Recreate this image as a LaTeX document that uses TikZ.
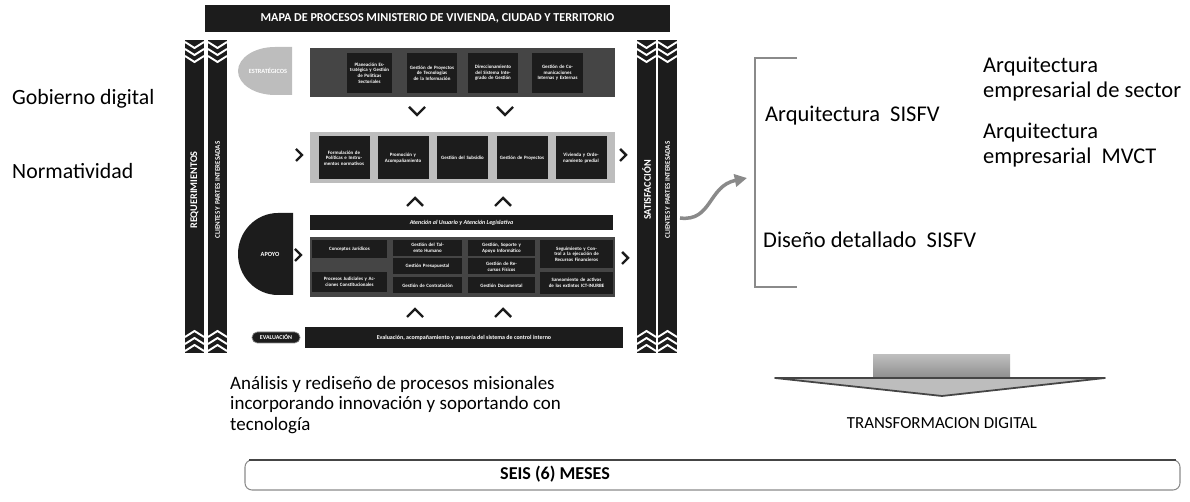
\documentclass[tikz,border=0pt]{standalone}
\usepackage{fontspec}
\setmainfont{Carlito}
\usetikzlibrary{positioning,arrows.meta}

\definecolor{fonce}{HTML}{1C1C1C}
\definecolor{grisfonce}{HTML}{454545}
\definecolor{grismoyen}{HTML}{8A8A8A}
\definecolor{grisclair}{HTML}{BDBDBD}

\begin{document}
\begin{tikzpicture}[x=0.02cm, y=-0.02cm,
		boite/.style={fill=fonce, text=white, font=\fontsize{2.8}{3.2}\selectfont\bfseries, align=center, inner sep=0.5pt},
		etiq/.style={text=white, font=\fontsize{4}{5}\selectfont\bfseries, rotate=90},
		chevron/.style={fonce, line width=1.4pt},
		texte/.style={font=\fontsize{12.8}{14.2}\selectfont, anchor=west, align=left}]
		
		\useasboundingbox (0,0) rectangle (1190,502);
		
		% Titre de la carte de processus
		\node[fill=fonce, text=white, font=\fontsize{6.9}{8}\selectfont\bfseries, minimum width=465*0.02cm, minimum height=27*0.02cm, inner sep=0pt] (titre) at (437.5,18.5) {MAPA DE PROCESOS MINISTERIO DE VIVIENDA, CIUDAD Y TERRITORIO};
		
		% Barres verticales (gauche et droite)
		\foreach \x/\nom/\t/\f in {185/req/REQUERIMIENTOS/5.8, 208/cli/CLIENTES Y PARTES INTERESADAS/4,
			637/sat/SATISFACCIÓN/5.8, 658/clid/CLIENTES Y PARTES INTERESADAS/4}{
			\fill[fonce] (\x,40) rectangle (\x+19,353);
			\node[etiq, font=\fontsize{\f}{\f}\selectfont\bfseries] (\nom) at (\x+9.5,190) {\t};
			\foreach \k in {0,1,2}{
				\draw[white, line width=1.1pt] (\x,42+\k*7) -- (\x+9.5,48+\k*7) -- (\x+19,42+\k*7);
				\draw[white, line width=1.1pt] (\x,351-\k*7) -- (\x+9.5,345-\k*7) -- (\x+19,351-\k*7);
			}
		}
		
		% Processus stratégiques
		\fill[grisclair] (292,47) -- (275,47) arc[start angle=270, end angle=90, x radius=37, y radius=24] -- (292,95) -- cycle;
		\node[text=white, font=\fontsize{3.6}{4}\selectfont\bfseries] (strat) at (268,71) {ESTRATÉGICOS};
		\fill[grisfonce] (310,48) rectangle (615,97);
		\foreach \n/\x/\w/\t in {1/369.5/45/{Planeación Estratégica y Gestión de Políticas Sectoriales},
			2/432/50/{Gestión de Proyectos de Tecnologías de la Información},
			3/493/50/{Direccionamiento del Sistema Integrado de Gestión},
			4/557.5/51/{Gestión de Comunicaciones Internas y Externas}}{
			\node[boite, minimum width=\w*0.02cm, minimum height=40*0.02cm, text width=\w*0.02cm-0.1cm] (est\n) at (\x,73) {\t};
		}
		
		% Chevrons vers le bas
		\foreach \x in {417,505}{
			\draw[chevron] (\x-8,107) -- (\x,115) -- (\x+8,107);
		}
		
		% Processus misionales
		\fill[grisclair] (310,132) rectangle (615,183);
		\foreach \n/\x/\t in {1/344/{Formulación de Políticas e Instrumentos normativos},
			2/403/{Promoción y Acompañamiento},
			3/462.5/{Gestión del Subsidio},
			4/522/{Gestión de Proyectos},
			5/581/{Vivienda y Ordenamiento predial}}{
			\node[boite, minimum width=51*0.02cm, minimum height=43*0.02cm, text width=0.92cm] (mis\n) at (\x,158) {\t};
		}
		\draw[chevron] (296,149) -- (302,155) -- (296,161);
		\draw[chevron] (620,149) -- (626,155) -- (620,161);
		
		% Chevrons vers le haut
		\foreach \x/\y in {415/202, 503/202, 415/313, 503/313}{
			\draw[chevron] (\x-8,\y+4) -- (\x,\y-4) -- (\x+8,\y+4);
		}
		
		% Processus d'appui
		\fill[fonce] (293,213) -- (278,213) arc[start angle=270, end angle=90, x radius=40, y radius=41] -- (293,295) -- cycle;
		\node[text=white, font=\fontsize{3.6}{4}\selectfont\bfseries] (apoyo) at (270,254) {APOYO};
		\draw[chevron] (295,249) -- (301,255) -- (295,261);
		\draw[chevron] (622,252) -- (628,258) -- (622,264);
		\node[boite, font=\fontsize{3.4}{4}\selectfont\bfseries\itshape, minimum width=303*0.02cm, minimum height=15*0.02cm] (atencion) at (461.5,222.5) {Atención al Usuario y Atención Legislativa};
		\fill[grisfonce] (310,237) rectangle (615,297);
		\foreach \n/\x/\y/\w/\h/\t in {1/349.5/249/75/18/{Conceptos Jurídicos},
			2/349.5/282/75/20/{Procesos Judiciales y Acciones Constitucionales},
			3/427.5/248/69/16/{Gestión del Talento Humano},
			4/427.5/266.5/69/16/{Gestión Presupuestal},
			5/427.5/285.5/69/16/{Gestión de Contratación},
			6/501.5/248/67/16/{Gestión, Soporte y Apoyo Informático},
			7/501.5/266.5/67/16/{Gestión de Recursos Físicos},
			8/501.5/285.5/67/16/{Gestión Documental},
			9/576.5/254/73/28/{Seguimiento y Control a la ejecución de Recursos Financieros},
			10/576.5/283/73/22/{Saneamiento de activos de los extintos ICT-INURBE}}{
			\node[boite, minimum width=\w*0.02cm, minimum height=\h*0.02cm, text width=\w*0.02cm-0.2cm] (apo\n) at (\x,\y) {\t};
		}
		
		% Évaluation
		\node[boite, rounded corners=3pt, draw=grismoyen, font=\fontsize{3.4}{4}\selectfont\bfseries, minimum width=48*0.02cm, minimum height=11*0.02cm] (evalu) at (276,337.5) {EVALUACIÓN};
		\node[boite, font=\fontsize{3.4}{4}\selectfont\bfseries, minimum width=318*0.02cm, minimum height=21*0.02cm] (evalbarre) at (464,337.5) {Evaluación, acompañamiento y asesoría del sistema de control interno};
		
		% Étiquettes à gauche
		\node[texte, font=\fontsize{12.4}{14}\selectfont] (gob) at (6,99) {Gobierno digital};
		\node[texte, font=\fontsize{12.4}{14}\selectfont] (norma) at (6,171) {Normatividad};
		
		% Crochet et flèche ondulée
		\coordinate (sortie) at (680,218);
		\coordinate (cible) at (747,178);
		\draw[grismoyen, line width=1.3pt] (797,58) -- (755,58) -- (755,287) -- (797,287);
		\draw[grismoyen, line width=2pt, -{Triangle[length=7pt, width=7pt]}] (sortie) .. controls (712,222) and (708,186) .. (cible);
		
		% Textes à droite
		\node[texte] (arqsis) at (759,116) {Arquitectura\ \ SISFV};
		\node[texte] (arqsec) at (977,79.5) {Arquitectura\\empresarial de sector};
		\node[texte] (arqmvct) at (977,145) {Arquitectura\\empresarial\ \ MVCT};
		\node[texte] (diseno) at (757,240) {Diseño detallado\ \ SISFV};
		
		% Texte du bas
		\node[texte, font=\fontsize{10.8}{11.6}\selectfont] (analisis) at (224,405) {Análisis y rediseño de procesos misionales\\incorporando innovación y soportando con\\tecnología};
		
		% Grande flèche vers le bas
		\shade[top color=grisclair, bottom color=grismoyen] (873,355) rectangle (1010,380);
		\filldraw[fill=grisclair, draw=grisfonce, line width=1pt, line join=round] (775,378) -- (1105,378) -- (942,396) -- cycle;
		\node[font=\fontsize{9.6}{11}\selectfont] (transfo) at (942,423) {TRANSFORMACION DIGITAL};
		
		% Durée
		\draw[grismoyen, line width=0.6pt, rounded corners=4pt] (245,460) rectangle (1180,490);
		\draw[grisfonce, line width=0.9pt] (249,460) -- (1176,460);
		\node[font=\fontsize{10.3}{12}\selectfont\bfseries] (meses) at (555,474) {SEIS (6) MESES};
		
	\end{tikzpicture}
\end{document}
